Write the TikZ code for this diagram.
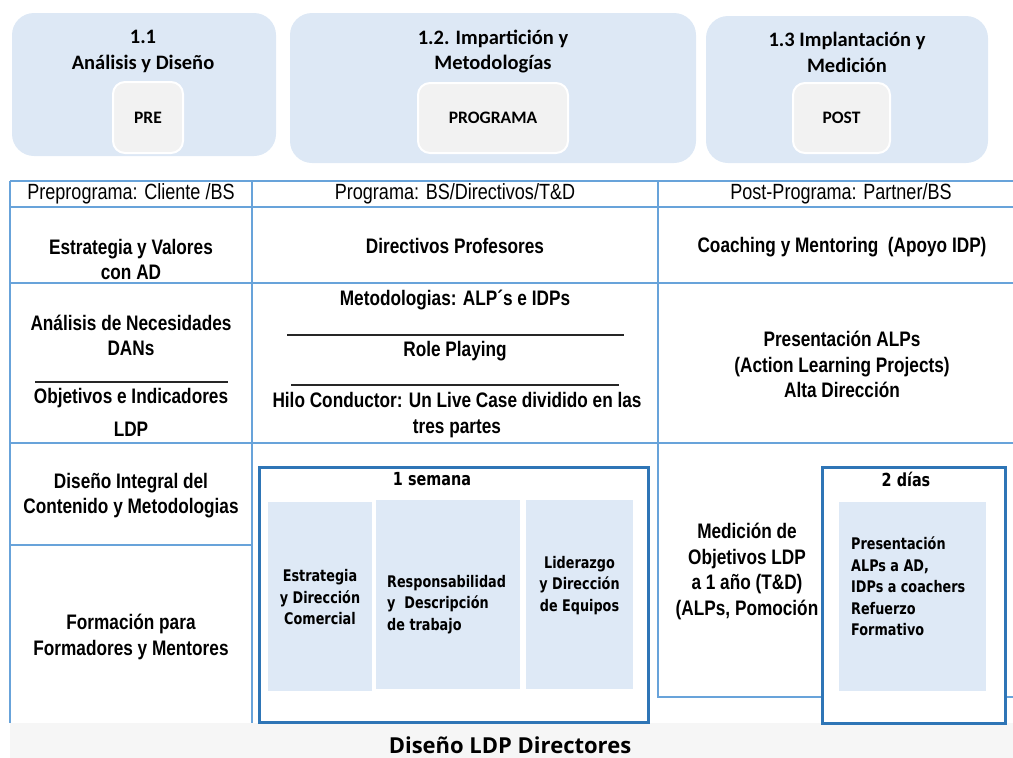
\documentclass[tikz,border=0pt]{standalone}
\usepackage{fontspec}
\setmainfont{Liberation Sans}
\newfontfamily\narrowfont[FakeStretch=0.82]{Liberation Sans}
\newfontfamily\calfont{Carlito}
\newfontfamily\tahfont[FakeStretch=0.8]{DejaVu Sans}
\newfontfamily\footfont{Open Sans}
\definecolor{topblue}{RGB}{221,232,245}
\definecolor{tagGrey}{RGB}{242,242,242}
\definecolor{lineblue}{RGB}{104,163,218}
\definecolor{frameblue}{RGB}{46,117,182}
\definecolor{modblue}{RGB}{222,233,246}
\definecolor{footgrey}{RGB}{246,246,246}
\begin{document}
\begin{tikzpicture}[x=1pt,y=-1pt,
  phase/.style={draw=none, fill=topblue, rounded corners=22pt, inner sep=0pt},
  tag/.style={draw=white, line width=2pt, fill=tagGrey, rounded corners=12pt, inner sep=0pt,
    font=\calfont\bfseries\fontsize{17.5}{20}\selectfont},
  title/.style={align=center, inner sep=0pt, font=\calfont\bfseries\fontsize{20.5}{25.5}\selectfont},
  grid/.style={draw=lineblue, line width=1.8pt},
  sepline/.style={draw=black!85, line width=1.1pt},
  cell/.style={align=center, inner sep=0pt, font=\narrowfont\bfseries\fontsize{21}{25.5}\selectfont},
  head/.style={inner sep=0pt, font=\narrowfont\fontsize{22}{26}\selectfont},
  period/.style={draw=frameblue, line width=3pt, fill=white, inner sep=0pt},
  module/.style={fill=modblue, draw=none, inner sep=0pt},
  modtext/.style={inner sep=0pt, font=\tahfont\bfseries\fontsize{16}{21.5}\selectfont},
  duration/.style={inner sep=0pt, font=\tahfont\bfseries\fontsize{18}{22}\selectfont},
  foot/.style={fill=footgrey, draw=none, inner sep=0pt},
  foottext/.style={inner sep=0pt, font=\footfont\bfseries\fontsize{22}{26}\selectfont}
]
\useasboundingbox (0,0) rectangle (1013,758);

% ---- top phase boxes
\node[phase, minimum width=264pt, minimum height=143pt] (ph1) at (144,84.5) {};
\node[phase, minimum width=406pt, minimum height=150pt] (ph2) at (493,88) {};
\node[phase, minimum width=282pt, minimum height=147pt] (ph3) at (847,89.5) {};
\node[title] (ph1t) at (143,51.5) {1.1\\Análisis y Diseño};
\node[title] (ph2t) at (493,51.5) {1.2. Impartición y\\Metodologías};
\node[title] (ph3t) at (847,52.5) {1.3 Implantación y\\Medición};
\node[tag, minimum width=70pt, minimum height=71pt] (pre) at (148,117.5) {PRE};
\node[tag, minimum width=150pt, minimum height=70pt] (prog) at (493,118) {PROGRAMA};
\node[tag, minimum width=97pt, minimum height=70pt] (post) at (841.5,118) {POST};

% ---- footer band
\node[foot, minimum width=1003pt, minimum height=35pt] (footband) at (511.5,740.5) {};
\node[foottext] (foottitle) at (510,745) {Diseño LDP Directores};

% ---- table grid
\draw[grid] (10,181) -- (1013,181);
\draw[grid] (10,207) -- (1013,207);
\draw[grid] (10,283) -- (1013,283);
\draw[grid] (10,443) -- (1013,443);
\draw[grid] (10,545) -- (252,545);
\draw[grid] (10,181) -- (10,723);
\draw[grid] (252,181) -- (252,723);
\draw[grid] (658,181) -- (658,697) -- (1013,697);

% ---- header row
\node[head] (h1) at (131,194) {Preprograma: Cliente /BS};
\node[head] (h2) at (455,194) {Programa: BS/Directivos/T\&D};
\node[head] (h3) at (841,194) {Post-Programa: Partner/BS};

% ---- row 2
\node[cell] (c21) at (131,259.5) {Estrategia y Valores\\con AD};
\node[cell] (c22) at (455,246) {Directivos Profesores};
\node[cell] (c23) at (842,247) {Coaching y Mentoring\ \ (Apoyo IDP)};

% ---- row 3
\node[cell] (c31a) at (131,335.5) {Análisis de Necesidades\\DANs};
\draw[sepline] (35,382) -- (228,382);
\node[cell] (c31b) at (131,398) {Objetivos e Indicadores};
\node[cell] (c31c) at (131,429) {LDP};
\node[cell] (c32a) at (455,300) {Metodologias: ALP´s e IDPs};
\draw[sepline] (287,335) -- (624,335);
\node[cell] (c32b) at (455,351) {Role Playing};
\draw[sepline] (291,385) -- (619,385);
\node[cell] (c32c) at (457,415) {Hilo Conductor: Un Live Case dividido en las\\tres partes};
\node[cell] (c33) at (842,364.5) {Presentación ALPs\\(Action Learning Projects)\\Alta Dirección};

% ---- rows 4/5 left column
\node[cell] (c41) at (131,495.5) {Diseño Integral del\\Contenido y Metodologias};
\node[cell] (c51) at (131,637) {Formación para\\Formadores y Mentores};

% ---- right column lower cell
\node[cell] (c43) at (747,571.5) {Medición de\\Objetivos LDP\\a 1 año (T\&D)\\(ALPs, Pomoción};

% ---- 1 semana block
\node[period, minimum width=389pt, minimum height=255pt] (week) at (453.5,594.5) {};
\node[duration] (weekt) at (432,479) {1 semana};
\node[module, minimum width=104pt, minimum height=189pt] (mA) at (320,596.5) {};
\node[module, minimum width=144pt, minimum height=189pt] (mB) at (448,594.5) {};
\node[module, minimum width=107pt, minimum height=189pt] (mC) at (579.5,594.5) {};
\node[modtext, align=center] (mAt) at (320,597.5) {Estrategia\\y Dirección\\Comercial};
\node[modtext, align=left, anchor=west] (mBt) at (387,604.5) {Responsabilidad\\y\ \ Descripción\\de trabajo};
\node[modtext, align=center] (mCt) at (579.5,585.5) {Liderazgo\\y Dirección\\de Equipos};

% ---- 2 dias block
\node[period, minimum width=183pt, minimum height=256pt] (days) at (913.5,595) {};
\node[duration] (dayst) at (906,479) {2 días};
\node[module, minimum width=147pt, minimum height=189pt] (mD) at (912.5,596.5) {};
\node[modtext, align=left, anchor=west] (mDt) at (851,586.5) {Presentación\\ALPs a AD,\\IDPs a coachers\\Refuerzo\\Formativo};
\end{tikzpicture}
\end{document}
